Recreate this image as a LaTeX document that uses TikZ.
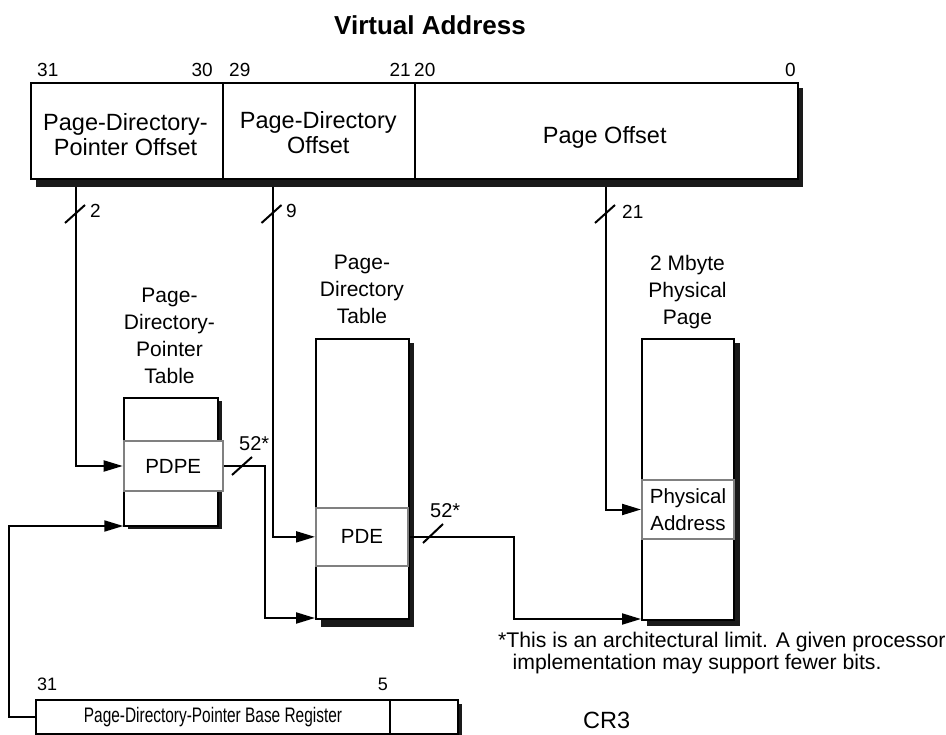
\documentclass[tikz,border=0pt]{standalone}
\usepackage{fontspec}
\setmainfont{Liberation Sans}
\usepackage{graphicx}
\usetikzlibrary{arrows.meta}
\definecolor{shadowcol}{HTML}{1A1A1A}
\definecolor{entrygray}{HTML}{808080}
\begin{document}
\begin{tikzpicture}[x=1pt,y=-1pt,
  box/.style={draw=black, line width=2pt, fill=white, rectangle, inner sep=0pt, anchor=north west},
  entry/.style={draw=entrygray, line width=2pt, fill=white, rectangle, inner sep=0pt, anchor=north west},
  conn/.style={line width=2pt, line join=miter, -{Triangle[length=19pt,width=11pt]}},
  slash/.style={line width=2pt},
  bitnum/.style={font=\fontsize{19}{22}\selectfont, inner sep=0pt},
  fldtxt/.style={font=\fontsize{23.5}{25.5}\selectfont, inner sep=0pt, align=center},
  lbltxt/.style={font=\fontsize{21}{27}\selectfont, inner sep=0pt, align=center},
  widthtxt/.style={font=\fontsize{19}{22}\selectfont, inner sep=0pt},
  busw/.style={font=\fontsize{20}{22}\selectfont, inner sep=0pt},
  entrytxt/.style={font=\fontsize{20.5}{27}\selectfont, align=center},
]
\useasboundingbox (0,0) rectangle (946,735);

% title
\node[font=\bfseries\fontsize{26}{30}\selectfont, inner sep=0pt, anchor=base] (title) at (430,35) {Virtual Address};

% bit numbers of virtual address
\node[bitnum, anchor=base west] (b31) at (37,77) {31};
\node[bitnum, anchor=base east] (b30) at (213,77) {30};
\node[bitnum, anchor=base west] (b29) at (229,77) {29};
\node[bitnum, anchor=base east] (b21) at (411,77) {21};
\node[bitnum, anchor=base west] (b20) at (414,77) {20};
\node[bitnum, anchor=base east] (b0) at (796,77) {0};

% register shadow and fields
\fill[shadowcol] (36,88) rectangle (803,187);
\node[box, minimum width=192pt, minimum height=96pt] (reg1) at (30,82) {};
\node[box, minimum width=192pt, minimum height=96pt] (reg2) at (222,82) {};
\node[box, minimum width=383pt, minimum height=96pt] (reg3) at (414,82) {};
\node[fldtxt, anchor=north] (t1) at (125.5,113) {Page-Directory-\\Pointer Offset};
\node[fldtxt, anchor=north] (t2) at (318.3,111) {Page-Directory\\Offset};
\node[fldtxt, anchor=base] (t3) at (604.7,144) {Page Offset};

\coordinate (s1) at (76,187);
\coordinate (s2) at (272.5,187);
\coordinate (s3) at (606,187);

% tables labels
\node[lbltxt, anchor=north] (l1) at (169.5,288) {Page-\\Directory-\\Pointer\\Table};
\node[lbltxt, anchor=north] (l2) at (362,255) {Page-\\Directory\\Table};
\node[lbltxt, anchor=north] (l3) at (687.5,255) {2 Mbyte\\Physical\\Page};

% page-directory-pointer table
\fill[shadowcol] (128,401) rectangle (222,528.5);
\node[box, minimum width=93.4pt, minimum height=128.3pt] (pdpt) at (123.3,396.7) {};
\node[entry, entrytxt, minimum width=99pt, minimum height=50pt] (pdpe) at (122.7,440) {PDPE};

% page-directory table
\fill[shadowcol] (321,343) rectangle (414,627);
\node[box, minimum width=92.5pt, minimum height=280pt] (pdt) at (315,338) {};
\node[entry, entrytxt, minimum width=92pt, minimum height=58.3pt] (pde) at (315,506.7) {PDE};

% physical page
\fill[shadowcol] (647,343) rectangle (740,626);
\node[box, minimum width=92pt, minimum height=281pt] (page) at (641,338) {};
\node[entry, entrytxt, minimum width=92pt, minimum height=59pt] (phys) at (641,479) {Physical\\Address};

% CR3
\node[bitnum, font=\fontsize{18}{22}\selectfont, anchor=base west] (c31) at (37,690) {31};
\node[bitnum, font=\fontsize{18}{22}\selectfont, anchor=base east] (c5) at (388,690) {5};
\fill[shadowcol] (40,704) rectangle (462,735);
\node[box, minimum width=354pt, minimum height=34pt, font=\fontsize{21}{24}\selectfont] (cr3a) at (35,699) {\scalebox{0.735}[1]{Page-Directory-Pointer Base Register}};
\node[box, minimum width=68pt, minimum height=34pt] (cr3b) at (389,699) {};
\node[font=\fontsize{23.5}{26}\selectfont, inner sep=0pt, anchor=base west] (cr3name) at (583,728) {CR3};

% footnote
\node[font=\fontsize{21.2}{22}\selectfont, inner sep=0pt, anchor=north west, align=left] (note) at (498,632)
  {*This is an architectural limit. A given processor\\\hspace*{14.5pt}implementation may support fewer bits.};

% connectors
\draw[conn] (s1) |- (pdpe.west);
\draw[conn] (s2) |- (pde.west);
\draw[conn] (s3) |- (phys.west);
\draw[conn] (pdpe.east) -- ++(41.6,0) |- ([yshift=2pt]pdt.south west);
\draw[conn] (pde.east) -- ++(105,0) |- ([yshift=2pt]page.south west);
\draw[conn] (cr3a.west) -- ++(-26,0) |- ([yshift=1pt]pdpt.south west);

% width slashes
\draw[slash] (65,223) -- (85,205);
\draw[slash] (261.5,223) -- (281.5,205);
\draw[slash] (595,223) -- (615,205);
\draw[slash] (232,475) -- (252,457);
\draw[slash] (423,543) -- (443,524);

% width labels
\node[widthtxt, anchor=base west] (w2) at (90,218) {2};
\node[widthtxt, anchor=base west] (w9) at (286,218) {9};
\node[widthtxt, anchor=base west] (w21) at (622,219) {21};
\node[busw, anchor=base west] (w52a) at (239,450) {52*};
\node[busw, anchor=base west] (w52b) at (430,518) {52*};
\end{tikzpicture}
\end{document}
